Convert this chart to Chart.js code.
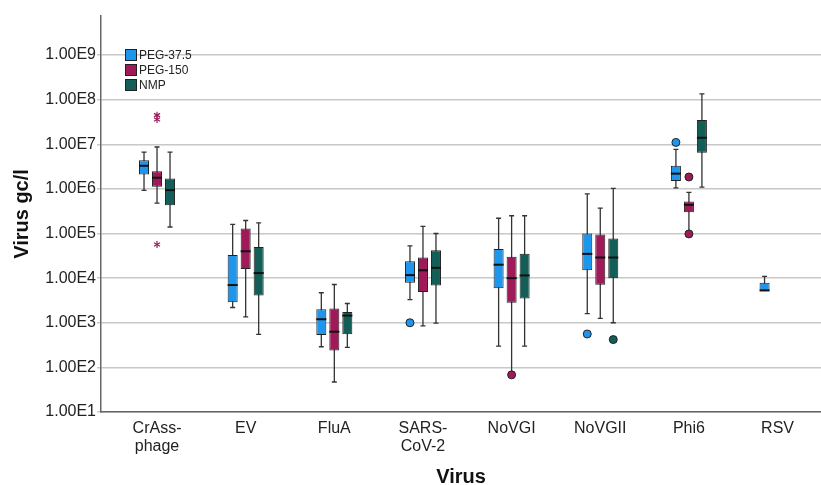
<!DOCTYPE html>
<html>
<head>
<meta charset="utf-8">
<script src="https://cdn.jsdelivr.net/npm/chart.js@4/dist/chart.umd.min.js"></script>
<style>
  html, body { margin: 0; background: #fff; }
  #wrap { width: 821px; height: 485px; }
</style>
</head>
<body>
<div id="wrap"><canvas id="virusChart" width="821" height="485"></canvas></div>
<script>
// categories (multi-line labels as arrays)
const viruses = [['CrAss-', 'phage'], 'EV', 'FluA', ['SARS-', 'CoV-2'], 'NoVGI', 'NoVGII', 'Phi6', 'RSV'];
const seriesNames = ['PEG-37.5', 'PEG-150', 'NMP'];
const seriesColors = ['#1f96ee', '#a01a5a', '#135f58'];

// [min, q1, median, q3, max] per virus, null = no data
const peg375Boxes = [
    [9.3e5, 2.1e6, 3.3e6, 4.4e6, 6.7e6],
    [2.2e3, 2.9e3, 7.0e3, 3.3e4, 1.6e5],
    [2.9e2, 5.3e2, 1.2e3, 2.0e3, 4.7e3],
    [3.3e3, 7.9e3, 1.17e4, 2.4e4, 5.3e4],
    [3.0e2, 5.9e3, 2.0e4, 4.5e4, 2.2e5],
    [1.6e3, 1.5e4, 3.5e4, 1.0e5, 7.7e5],
    [1.05e6, 1.5e6, 2.2e6, 3.3e6, 7.7e6],
    [5.3e3, 5.3e3, 5.3e3, 7.9e3, 1.1e4]
];
const peg150Boxes = [
    [4.8e5, 1.12e6, 1.78e6, 2.5e6, 8.7e6],
    [1.35e3, 1.6e4, 4.0e4, 1.3e5, 1.96e5],
    [47, 2.4e2, 6.3e2, 2.1e3, 7.2e3],
    [8.5e2, 4.9e3, 1.5e4, 2.9e4, 1.45e5],
    [75, 2.8e3, 1.0e4, 3.0e4, 2.5e5],
    [1.26e3, 7.1e3, 2.9e4, 9.5e4, 3.7e5],
    [1.1e5, 3.0e5, 4.4e5, 5.2e5, 8.4e5],
    null
];
const nmpBoxes = [
    [1.4e5, 4.3e5, 9.4e5, 1.7e6, 6.7e6],
    [5.5e2, 4.1e3, 1.3e4, 5.0e4, 1.74e5],
    [2.8e2, 5.5e2, 1.45e3, 1.75e3, 2.7e3],
    [9.8e2, 6.8e3, 1.7e4, 4.2e4, 1.0e5],
    [3.0e2, 3.5e3, 1.15e4, 3.5e4, 2.5e5],
    [1.0e3, 1.0e4, 2.9e4, 7.7e4, 1.03e6],
    [1.1e6, 6.5e6, 1.4e7, 3.5e7, 1.35e8],
    null
];

// outliers (circles) and extremes (stars) per virus
const peg375Outliers = [[], [], [], [1.0e3], [], [5.6e2], [1.1e7], []];
const peg150Outliers = [[], [], [], [], [68], [], [1.85e6, 9.8e4], []];
const nmpOutliers = [[], [], [], [], [], [4.2e2], [], []];
const peg375Extremes = [[], [], [], [], [], [], [], []];
const peg150Extremes = [[4.5e7, 3.6e7, 5.7e4], [], [], [], [], [], [], []];
const nmpExtremes = [[], [], [], [], [], [], [], []];

const yTicks = [1e1, 1e2, 1e3, 1e4, 1e5, 1e6, 1e7, 1e8, 1e9];

const boxes = [peg375Boxes, peg150Boxes, nmpBoxes];
const outliers = [peg375Outliers, peg150Outliers, nmpOutliers];
const extremes = [peg375Extremes, peg150Extremes, nmpExtremes];

const FONT = '"Liberation Sans", Arial, sans-serif';

function eachBox(chart, fn) {
    chart.data.datasets.forEach(function(ds, s) {
        const meta = chart.getDatasetMeta(s);
        meta.data.forEach(function(el, j) {
            const k = ds.data[j].x - 1;
            fn(el.getProps(['x', 'width'], true), s, k);
        });
    });
}

function drawStar(ctx, x, y, r) {
    for (let a = 0; a < 3; a++) {
        const ang = Math.PI / 2 + a * Math.PI / 3;
        ctx.beginPath();
        ctx.moveTo(x - r * Math.cos(ang), y - r * Math.sin(ang));
        ctx.lineTo(x + r * Math.cos(ang), y + r * Math.sin(ang));
        ctx.stroke();
    }
}

const boxParts = {
    id: 'boxParts',
    beforeDatasetsDraw(chart) {
        const ctx = chart.ctx, y = chart.scales.y;
        ctx.save();
        ctx.strokeStyle = '#333';
        ctx.lineWidth = 1.3;
        eachBox(chart, function(el, s, k) {
            const b = boxes[s][k];
            const yMin = y.getPixelForValue(b[0]), yMax = y.getPixelForValue(b[4]);
            ctx.beginPath();
            ctx.moveTo(el.x, yMin);
            ctx.lineTo(el.x, yMax);
            ctx.moveTo(el.x - 2.5, yMin);
            ctx.lineTo(el.x + 2.5, yMin);
            ctx.moveTo(el.x - 2.5, yMax);
            ctx.lineTo(el.x + 2.5, yMax);
            ctx.stroke();
        });
        ctx.restore();
    },
    afterDatasetsDraw(chart) {
        const ctx = chart.ctx, y = chart.scales.y;
        ctx.save();
        eachBox(chart, function(el, s, k) {
            const b = boxes[s][k];
            const yMed = y.getPixelForValue(b[2]);
            ctx.strokeStyle = '#111';
            ctx.lineWidth = 2;
            ctx.beginPath();
            ctx.moveTo(el.x - el.width / 2, yMed);
            ctx.lineTo(el.x + el.width / 2, yMed);
            ctx.stroke();

            outliers[s][k].forEach(function(v) {
                ctx.beginPath();
                ctx.arc(el.x, y.getPixelForValue(v), 4, 0, Math.PI * 2);
                ctx.fillStyle = seriesColors[s];
                ctx.fill();
                ctx.strokeStyle = '#222';
                ctx.lineWidth = 1;
                ctx.stroke();
            });
            ctx.strokeStyle = seriesColors[s];
            ctx.lineWidth = 1.2;
            extremes[s][k].forEach(function(v) {
                drawStar(ctx, el.x, y.getPixelForValue(v), 3.5);
            });
        });
        ctx.restore();
    },
    afterDraw(chart) {
        // legend inside the plot, top left
        const ctx = chart.ctx;
        ctx.save();
        ctx.font = '12px ' + FONT;
        ctx.textBaseline = 'middle';
        seriesNames.forEach(function(name, s) {
            const top = 49 + s * 15;
            ctx.fillStyle = seriesColors[s];
            ctx.fillRect(125, top, 12, 12);
            ctx.strokeStyle = '#222';
            ctx.lineWidth = 1;
            ctx.strokeRect(125.5, top + 0.5, 11, 11);
            ctx.fillStyle = '#222';
            ctx.fillText(name, 139, top + 6.5);
        });
        ctx.restore();
    }
};

const datasets = seriesNames.map(function(name, s) {
    return {
        label: name,
        backgroundColor: seriesColors[s],
        borderColor: '#222',
        borderWidth: 1,
        borderSkipped: false,
        data: boxes[s].map(function(b, k) {
            return b ? { x: k + 1, y: [b[1], b[3]] } : null;
        }).filter(Boolean)
    };
});

new Chart(document.getElementById('virusChart'), {
    type: 'bar',
    data: { datasets: datasets },
    plugins: [boxParts],
    options: {
        responsive: false,
        animation: false,
        categoryPercentage: 0.44,
        barPercentage: 0.77,
        layout: { padding: { top: 16, left: 0, right: 0, bottom: 0 } },
        plugins: { legend: { display: false }, tooltip: { enabled: false } },
        scales: {
            x: {
                type: 'linear',
                offset: false,
                min: 0.368,
                max: 8.49,
                afterBuildTicks: function(scale) {
                    scale.ticks = viruses.map(function(v, i) { return { value: i + 1 }; });
                },
                afterFit: function(scale) { scale.height = 73; },
                grid: { display: false, offset: false },
                border: { display: true, color: '#666', width: 1.5 },
                ticks: {
                    autoSkip: false,
                    maxRotation: 0,
                    padding: 0,
                    color: '#222',
                    font: { family: FONT, size: 16, lineHeight: 1.1 },
                    callback: function(value) { return viruses[value - 1]; }
                },
                title: {
                    display: true,
                    text: 'Virus',
                    color: '#111',
                    padding: { top: 0, bottom: -2 },
                    font: { family: FONT, size: 20, weight: 'bold', lineHeight: 1 }
                }
            },
            y: {
                type: 'logarithmic',
                min: 10,
                max: 7.5e9,
                afterBuildTicks: function(scale) {
                    scale.ticks = yTicks.map(function(v) { return { value: v }; });
                },
                afterFit: function(scale) { scale.width = 101; },
                grid: { color: '#c8c8c8', lineWidth: 1.5, tickLength: 4 },
                border: { display: true, color: '#666', width: 1.5 },
                ticks: {
                    padding: 1,
                    color: '#222',
                    font: { family: FONT, size: 16 },
                    callback: function(value) {
                        return value.toExponential(2).replace('e+', 'E');
                    }
                },
                title: {
                    display: true,
                    text: 'Virus gc/l',
                    color: '#111',
                    padding: { top: 10, bottom: 0 },
                    font: { family: FONT, size: 20, weight: 'bold' }
                }
            }
        }
    }
});
</script>
</body>
</html>
